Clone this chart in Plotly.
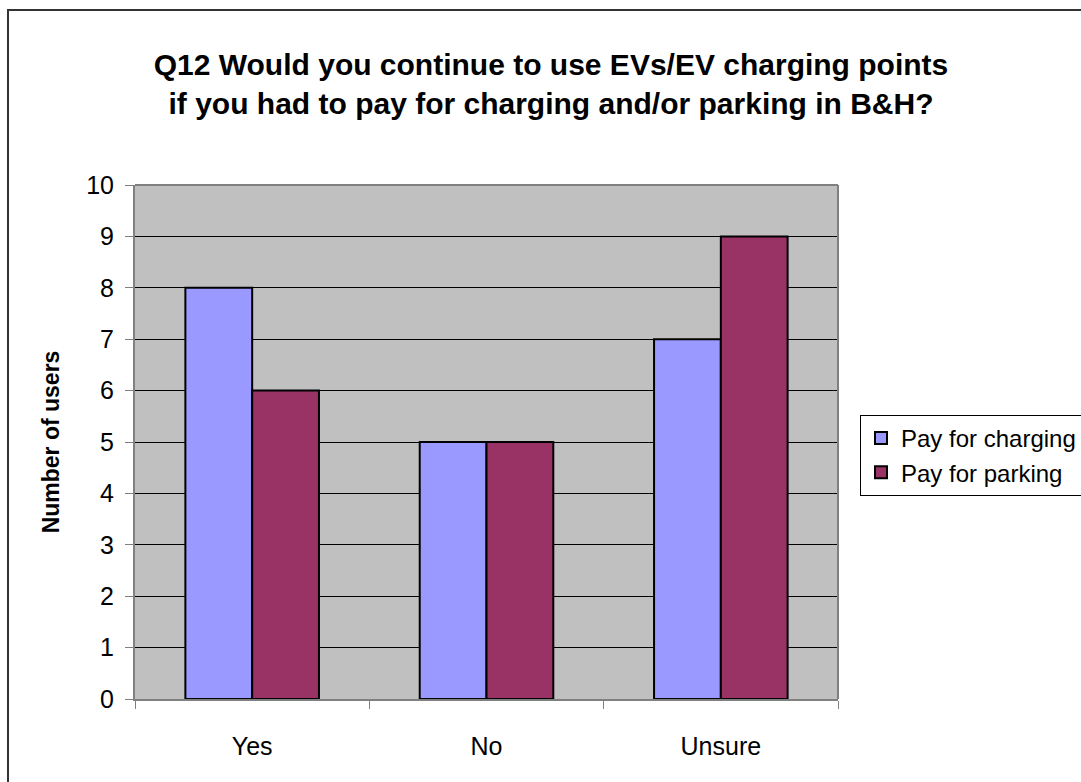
import plotly.graph_objects as go

categories = ["Yes", "No", "Unsure"]
pay_charging = [8, 5, 7]
pay_parking = [6, 5, 9]
y_ticks = [0, 1, 2, 3, 4, 5, 6, 7, 8, 9, 10]

FONT = "Liberation Sans, Arial, sans-serif"

fig = go.Figure()
fig.add_trace(go.Bar(name="Pay for charging", x=categories, y=pay_charging,
                     marker=dict(color="#9999FF", line=dict(color="black", width=2))))
fig.add_trace(go.Bar(name="Pay for parking", x=categories, y=pay_parking,
                     marker=dict(color="#993366", line=dict(color="black", width=2))))

L, R, T, B = 135, 243, 185, 83
W, H = 1081, 782
pw, ph = W - L - R, H - T - B

def px(x):
    return (x - L) / pw

def py(y):
    return (H - B - y) / ph

fig.update_layout(
    width=W, height=H,
    margin=dict(l=L, r=R, t=T, b=B, pad=0, autoexpand=False),
    paper_bgcolor="white",
    plot_bgcolor="#C0C0C0",
    barmode="group",
    bargap=0.43,
    bargroupgap=0,
    font=dict(family=FONT, color="black"),
    title=dict(
        text="<b>Q12 Would you continue to use EVs/EV charging points<br>if you had to pay for charging and/or parking in B&H?</b>",
        xref="container", x=551 / W, xanchor="center",
        y=1 - 75 / H, yanchor="middle",
        font=dict(size=30, family=FONT, color="black"),
    ),
    xaxis=dict(
        showline=True, linecolor="#808080", linewidth=2,
        ticks="outside", tickson="boundaries", ticklen=8, tickcolor="#808080", tickwidth=1,
        tickfont=dict(size=25, family=FONT, color="black"), showgrid=False,
        ticklabelstandoff=24,
    ),
    yaxis=dict(
        range=[0, 10], tickvals=y_ticks,
        showline=True, linecolor="#808080", linewidth=2,
        ticks="outside", ticklen=8, tickcolor="#808080", tickwidth=1,
        tickfont=dict(size=25, family=FONT, color="black"),
        ticklabelstandoff=6,
        showgrid=True, gridcolor="black", gridwidth=1,
        zeroline=False,
        title=dict(text="<b>Number of users</b>", font=dict(size=23, family=FONT, color="black"), standoff=20),
    ),
    legend=dict(
        x=px(860), xanchor="left", y=py(415), yanchor="top",
        bordercolor="black", borderwidth=1, bgcolor="white",
        font=dict(size=24, family=FONT, color="black"),
        itemwidth=30, tracegroupgap=0,
    ),
    shapes=[
        dict(type="line", xref="paper", yref="paper", x0=px(135), x1=px(838), y0=1, y1=1,
             line=dict(color="#808080", width=2)),
        dict(type="line", xref="paper", yref="paper", x0=1, x1=1, y0=0, y1=1,
             line=dict(color="#808080", width=2)),
        dict(type="rect", xref="paper", yref="paper", x0=px(8), x1=px(1090), y0=py(10), y1=py(795),
             line=dict(color="#333333", width=2)),
    ],
)

fig.write_html("out.html")
